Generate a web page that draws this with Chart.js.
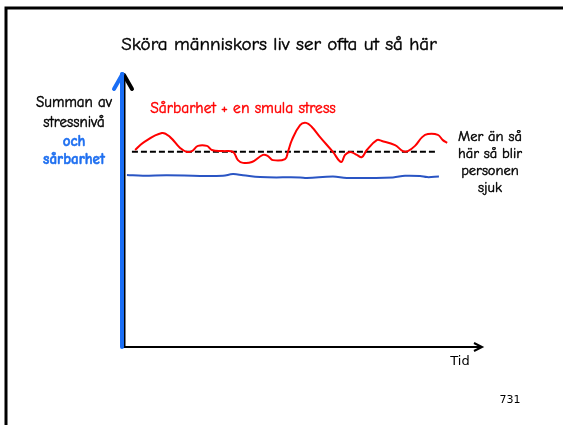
<!DOCTYPE html>
<html>
<head>
<meta charset="utf-8">
<script src="https://cdn.jsdelivr.net/npm/chart.js@4"></script>
<style>
  html, body { margin: 0; padding: 0; background: #fff; }
  #wrap { width: 563px; height: 425px; }
</style>
</head>
<body>
<div id="wrap"><canvas id="grafico"></canvas></div>
<script>
// tid (0-100) och nivå (0-100)
const tidRod = [3.4, 5.6, 10.9, 13.2, 16.0, 17.9, 19.3, 21.0, 23.5, 24.9, 28.0, 30.8, 32.2, 33.6, 36.1, 39.2, 40.6, 42.0, 45.4, 46.2, 47.3, 49.6, 51.3, 52.9, 55.2, 58.8, 61.1, 62.2, 63.6, 65.5, 66.9, 68.3, 71.1, 72.5, 76.2, 78.4, 79.8, 81.8, 83.8, 85.4, 88.2, 89.6, 90.8];
const stress = [71.9, 74.5, 78.1, 76.6, 72.6, 71.2, 71.5, 73.4, 73.4, 71.9, 71.5, 71.2, 68.2, 67.2, 67.5, 70.1, 69.7, 68.2, 68.6, 71.2, 75.5, 81.0, 81.8, 80.3, 76.6, 71.2, 67.5, 70.1, 71.2, 70.1, 69.3, 71.9, 75.5, 75.2, 73.7, 71.5, 71.5, 73.4, 76.6, 77.7, 77.4, 75.5, 74.5];

const tidBla = [1.1, 5.6, 12.3, 21.6, 28.0, 30.8, 33.6, 38.4, 49.6, 51.5, 58.8, 62.7, 75.6, 79.0, 83.2, 85.2, 88.5];
const sarbarhet = [62.8, 62.5, 62.7, 62.4, 62.5, 63.1, 62.7, 62.0, 61.9, 61.7, 62.2, 61.7, 61.9, 62.5, 62.4, 62.0, 62.2];

const tidGrans = [2.5, 88.2];
const grans = [71.3, 71.3];

function punkter(xs, ys) {
  return xs.map((x, i) => ({ x: x, y: ys[i] }));
}

const comic = '"Comic Sans MS", "Comic Neue", "Noto Sans", sans-serif';

// text med lite tjockare streck (Comic Sans är fetare än ersättaren)
function skriv(c, txt, x, y, tjock) {
  c.fillText(txt, x, y);
  c.strokeStyle = c.fillStyle;
  c.lineWidth = tjock || 0.45;
  c.strokeText(txt, x, y);
}

// axlar, ram och texter
const ritaExtra = {
  id: 'ritaExtra',
  afterDraw(chart) {
    const c = chart.ctx;
    const a = chart.chartArea;
    c.save();

    // ram
    c.strokeStyle = '#000';
    c.lineWidth = 3;
    c.beginPath();
    c.moveTo(6, 425);
    c.lineTo(6, 8);
    c.lineTo(563, 8);
    c.stroke();

    // x-axel
    c.lineWidth = 2;
    c.beginPath();
    c.moveTo(a.left, a.bottom);
    c.lineTo(a.right + 1, a.bottom);
    c.stroke();
    c.beginPath();
    c.moveTo(a.right - 6, a.bottom - 4);
    c.lineTo(a.right + 2, a.bottom);
    c.lineTo(a.right - 6, a.bottom + 4);
    c.stroke();

    // y-axel (svart + blå)
    c.lineWidth = 2;
    c.beginPath();
    c.moveTo(a.left + 1.5, a.bottom);
    c.lineTo(a.left + 1.5, a.top + 3);
    c.stroke();
    c.lineWidth = 4;
    c.lineCap = 'round';
    c.beginPath();
    c.moveTo(a.left + 1, a.top + 2);
    c.lineTo(a.left + 9, a.top + 16);
    c.stroke();
    c.strokeStyle = '#1a6ef5';
    c.lineWidth = 4;
    c.beginPath();
    c.moveTo(a.left - 1, a.bottom);
    c.lineTo(a.left - 1, a.top + 1);
    c.stroke();
    c.beginPath();
    c.moveTo(a.left - 0.5, a.top + 1);
    c.lineTo(a.left - 9, a.top + 16);
    c.stroke();
    c.lineCap = 'butt';

    // texter
    c.textAlign = 'center';
    c.textBaseline = 'middle';
    c.fillStyle = '#000';
    c.font = '19px ' + comic;
    skriv(c, 'Sköra människors liv ser ofta ut så här', 279, 45);

    c.font = '15px ' + comic;
    skriv(c, 'Summan av', 74, 103);
    skriv(c, 'stressnivå', 74, 123);
    c.fillStyle = '#1e6ff0';
    c.font = 'bold 15px ' + comic;
    skriv(c, 'och', 74, 142, 0.5);
    skriv(c, 'sårbarhet', 74, 160, 0.5);

    c.fillStyle = '#ff0000';
    c.font = '15.5px ' + comic;
    skriv(c, 'Sårbarhet + en smula stress', 243, 109);

    c.fillStyle = '#000';
    c.font = '14.5px ' + comic;
    skriv(c, 'Mer än så', 490, 137);
    skriv(c, 'här så blir', 490, 154);
    skriv(c, 'personen', 490, 171);
    skriv(c, 'sjuk', 490, 188);

    c.font = '13px "DejaVu Sans", Verdana, sans-serif';
    c.fillText('Tid', 460, 362);
    c.font = '11px "DejaVu Sans", Verdana, sans-serif';
    c.fillText('731', 510, 400);
    c.restore();
  }
};

new Chart(document.getElementById('grafico'), {
  type: 'scatter',
  data: {
    datasets: [
      {
        label: 'Sårbarhet + en smula stress',
        data: punkter(tidRod, stress),
        showLine: true,
        borderColor: '#ff0000',
        borderWidth: 2,
        pointRadius: 0,
        tension: 0.4
      },
      {
        label: 'Gräns',
        data: punkter(tidGrans, grans),
        showLine: true,
        borderColor: '#000',
        borderWidth: 2,
        borderDash: [6, 3],
        pointRadius: 0
      },
      {
        label: 'Sårbarhet',
        data: punkter(tidBla, sarbarhet),
        showLine: true,
        borderColor: '#2a55c4',
        borderWidth: 2,
        pointRadius: 0,
        tension: 0.4
      }
    ]
  },
  options: {
    responsive: true,
    maintainAspectRatio: false,
    animation: false,
    layout: {
      padding: { left: 123, right: 83, top: 73, bottom: 78 }
    },
    plugins: {
      legend: { display: false },
      tooltip: { enabled: false }
    },
    scales: {
      x: { type: 'linear', min: 0, max: 100, display: false },
      y: { type: 'linear', min: 0, max: 100, display: false }
    }
  },
  plugins: [ritaExtra]
});
</script>
</body>
</html>
